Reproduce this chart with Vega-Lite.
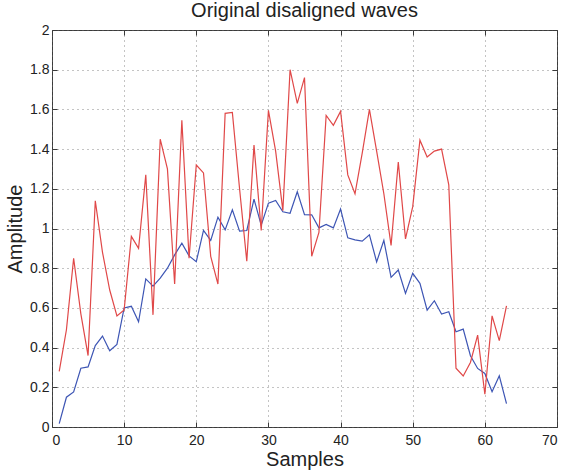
{
  "$schema": "https://vega.github.io/schema/vega-lite/v6.json",
  "autosize": {"type": "none"},
  "padding": {"left": 52, "top": 30, "right": 8, "bottom": 45},
  "width": 505,
  "height": 397,
  "background": "white",
  "config": {
    "font": "Liberation Sans",
    "view": {"stroke": "#3a3a3a", "strokeWidth": 1}
  },
  "title": {
    "text": "Original disaligned waves",
    "font": "Liberation Sans",
    "fontSize": 20,
    "fontWeight": "normal",
    "color": "#222222",
    "anchor": "middle",
    "offset": 2
  },
  "data": {
    "values": [
      {"sample": 1, "amplitude": 0.017, "wave": "aligned"},
      {"sample": 2, "amplitude": 0.15, "wave": "aligned"},
      {"sample": 3, "amplitude": 0.177, "wave": "aligned"},
      {"sample": 4, "amplitude": 0.296, "wave": "aligned"},
      {"sample": 5, "amplitude": 0.303, "wave": "aligned"},
      {"sample": 6, "amplitude": 0.41, "wave": "aligned"},
      {"sample": 7, "amplitude": 0.458, "wave": "aligned"},
      {"sample": 8, "amplitude": 0.384, "wave": "aligned"},
      {"sample": 9, "amplitude": 0.416, "wave": "aligned"},
      {"sample": 10, "amplitude": 0.6, "wave": "aligned"},
      {"sample": 11, "amplitude": 0.608, "wave": "aligned"},
      {"sample": 12, "amplitude": 0.53, "wave": "aligned"},
      {"sample": 13, "amplitude": 0.746, "wave": "aligned"},
      {"sample": 14, "amplitude": 0.71, "wave": "aligned"},
      {"sample": 15, "amplitude": 0.75, "wave": "aligned"},
      {"sample": 16, "amplitude": 0.8, "wave": "aligned"},
      {"sample": 17, "amplitude": 0.867, "wave": "aligned"},
      {"sample": 18, "amplitude": 0.926, "wave": "aligned"},
      {"sample": 19, "amplitude": 0.862, "wave": "aligned"},
      {"sample": 20, "amplitude": 0.833, "wave": "aligned"},
      {"sample": 21, "amplitude": 0.99, "wave": "aligned"},
      {"sample": 22, "amplitude": 0.94, "wave": "aligned"},
      {"sample": 23, "amplitude": 1.057, "wave": "aligned"},
      {"sample": 24, "amplitude": 0.993, "wave": "aligned"},
      {"sample": 25, "amplitude": 1.094, "wave": "aligned"},
      {"sample": 26, "amplitude": 0.987, "wave": "aligned"},
      {"sample": 27, "amplitude": 0.99, "wave": "aligned"},
      {"sample": 28, "amplitude": 1.148, "wave": "aligned"},
      {"sample": 29, "amplitude": 1.017, "wave": "aligned"},
      {"sample": 30, "amplitude": 1.128, "wave": "aligned"},
      {"sample": 31, "amplitude": 1.141, "wave": "aligned"},
      {"sample": 32, "amplitude": 1.084, "wave": "aligned"},
      {"sample": 33, "amplitude": 1.077, "wave": "aligned"},
      {"sample": 34, "amplitude": 1.185, "wave": "aligned"},
      {"sample": 35, "amplitude": 1.07, "wave": "aligned"},
      {"sample": 36, "amplitude": 1.069, "wave": "aligned"},
      {"sample": 37, "amplitude": 1.003, "wave": "aligned"},
      {"sample": 38, "amplitude": 1.02, "wave": "aligned"},
      {"sample": 39, "amplitude": 1.003, "wave": "aligned"},
      {"sample": 40, "amplitude": 1.098, "wave": "aligned"},
      {"sample": 41, "amplitude": 0.953, "wave": "aligned"},
      {"sample": 42, "amplitude": 0.943, "wave": "aligned"},
      {"sample": 43, "amplitude": 0.936, "wave": "aligned"},
      {"sample": 44, "amplitude": 0.968, "wave": "aligned"},
      {"sample": 45, "amplitude": 0.832, "wave": "aligned"},
      {"sample": 46, "amplitude": 0.94, "wave": "aligned"},
      {"sample": 47, "amplitude": 0.754, "wave": "aligned"},
      {"sample": 48, "amplitude": 0.791, "wave": "aligned"},
      {"sample": 49, "amplitude": 0.673, "wave": "aligned"},
      {"sample": 50, "amplitude": 0.774, "wave": "aligned"},
      {"sample": 51, "amplitude": 0.724, "wave": "aligned"},
      {"sample": 52, "amplitude": 0.589, "wave": "aligned"},
      {"sample": 53, "amplitude": 0.636, "wave": "aligned"},
      {"sample": 54, "amplitude": 0.569, "wave": "aligned"},
      {"sample": 55, "amplitude": 0.581, "wave": "aligned"},
      {"sample": 56, "amplitude": 0.48, "wave": "aligned"},
      {"sample": 57, "amplitude": 0.493, "wave": "aligned"},
      {"sample": 58, "amplitude": 0.359, "wave": "aligned"},
      {"sample": 59, "amplitude": 0.295, "wave": "aligned"},
      {"sample": 60, "amplitude": 0.27, "wave": "aligned"},
      {"sample": 61, "amplitude": 0.178, "wave": "aligned"},
      {"sample": 62, "amplitude": 0.258, "wave": "aligned"},
      {"sample": 63, "amplitude": 0.118, "wave": "aligned"},
      {"sample": 1, "amplitude": 0.28, "wave": "disaligned"},
      {"sample": 2, "amplitude": 0.49, "wave": "disaligned"},
      {"sample": 3, "amplitude": 0.85, "wave": "disaligned"},
      {"sample": 4, "amplitude": 0.57, "wave": "disaligned"},
      {"sample": 5, "amplitude": 0.36, "wave": "disaligned"},
      {"sample": 6, "amplitude": 1.14, "wave": "disaligned"},
      {"sample": 7, "amplitude": 0.88, "wave": "disaligned"},
      {"sample": 8, "amplitude": 0.69, "wave": "disaligned"},
      {"sample": 9, "amplitude": 0.56, "wave": "disaligned"},
      {"sample": 10, "amplitude": 0.59, "wave": "disaligned"},
      {"sample": 11, "amplitude": 0.96, "wave": "disaligned"},
      {"sample": 12, "amplitude": 0.9, "wave": "disaligned"},
      {"sample": 13, "amplitude": 1.27, "wave": "disaligned"},
      {"sample": 14, "amplitude": 0.565, "wave": "disaligned"},
      {"sample": 15, "amplitude": 1.45, "wave": "disaligned"},
      {"sample": 16, "amplitude": 1.3, "wave": "disaligned"},
      {"sample": 17, "amplitude": 0.72, "wave": "disaligned"},
      {"sample": 18, "amplitude": 1.545, "wave": "disaligned"},
      {"sample": 19, "amplitude": 0.85, "wave": "disaligned"},
      {"sample": 20, "amplitude": 1.32, "wave": "disaligned"},
      {"sample": 21, "amplitude": 1.28, "wave": "disaligned"},
      {"sample": 22, "amplitude": 0.86, "wave": "disaligned"},
      {"sample": 23, "amplitude": 0.72, "wave": "disaligned"},
      {"sample": 24, "amplitude": 1.58, "wave": "disaligned"},
      {"sample": 25, "amplitude": 1.585, "wave": "disaligned"},
      {"sample": 26, "amplitude": 1.2, "wave": "disaligned"},
      {"sample": 27, "amplitude": 0.835, "wave": "disaligned"},
      {"sample": 28, "amplitude": 1.42, "wave": "disaligned"},
      {"sample": 29, "amplitude": 0.99, "wave": "disaligned"},
      {"sample": 30, "amplitude": 1.595, "wave": "disaligned"},
      {"sample": 31, "amplitude": 1.39, "wave": "disaligned"},
      {"sample": 32, "amplitude": 1.09, "wave": "disaligned"},
      {"sample": 33, "amplitude": 1.8, "wave": "disaligned"},
      {"sample": 34, "amplitude": 1.63, "wave": "disaligned"},
      {"sample": 35, "amplitude": 1.76, "wave": "disaligned"},
      {"sample": 36, "amplitude": 0.86, "wave": "disaligned"},
      {"sample": 37, "amplitude": 0.98, "wave": "disaligned"},
      {"sample": 38, "amplitude": 1.57, "wave": "disaligned"},
      {"sample": 39, "amplitude": 1.52, "wave": "disaligned"},
      {"sample": 40, "amplitude": 1.59, "wave": "disaligned"},
      {"sample": 41, "amplitude": 1.27, "wave": "disaligned"},
      {"sample": 42, "amplitude": 1.175, "wave": "disaligned"},
      {"sample": 43, "amplitude": 1.38, "wave": "disaligned"},
      {"sample": 44, "amplitude": 1.6, "wave": "disaligned"},
      {"sample": 45, "amplitude": 1.39, "wave": "disaligned"},
      {"sample": 46, "amplitude": 1.175, "wave": "disaligned"},
      {"sample": 47, "amplitude": 0.915, "wave": "disaligned"},
      {"sample": 48, "amplitude": 1.335, "wave": "disaligned"},
      {"sample": 49, "amplitude": 0.948, "wave": "disaligned"},
      {"sample": 50, "amplitude": 1.11, "wave": "disaligned"},
      {"sample": 51, "amplitude": 1.445, "wave": "disaligned"},
      {"sample": 52, "amplitude": 1.36, "wave": "disaligned"},
      {"sample": 53, "amplitude": 1.39, "wave": "disaligned"},
      {"sample": 54, "amplitude": 1.4, "wave": "disaligned"},
      {"sample": 55, "amplitude": 1.22, "wave": "disaligned"},
      {"sample": 56, "amplitude": 0.296, "wave": "disaligned"},
      {"sample": 57, "amplitude": 0.257, "wave": "disaligned"},
      {"sample": 58, "amplitude": 0.325, "wave": "disaligned"},
      {"sample": 59, "amplitude": 0.463, "wave": "disaligned"},
      {"sample": 60, "amplitude": 0.165, "wave": "disaligned"},
      {"sample": 61, "amplitude": 0.56, "wave": "disaligned"},
      {"sample": 62, "amplitude": 0.435, "wave": "disaligned"},
      {"sample": 63, "amplitude": 0.61, "wave": "disaligned"}
    ]
  },
  "layer": [
    {
      "mark": {"type": "line", "opacity": 0},
      "encoding": {
        "x": {
          "field": "sample",
          "type": "quantitative",
          "scale": {"domain": [0, 70], "nice": false, "zero": false},
          "axis": {
            "orient": "top",
            "values": [0, 10, 20, 30, 40, 50, 60, 70],
            "labels": false,
            "title": null,
            "grid": false,
            "domain": false,
            "tickSize": -5,
            "tickColor": "#3a3a3a"
          }
        },
        "y": {
          "field": "amplitude",
          "type": "quantitative",
          "scale": {"domain": [0, 2], "nice": false, "zero": false},
          "axis": {
            "orient": "right",
            "values": [0, 0.2, 0.4, 0.6, 0.8, 1, 1.2, 1.4, 1.6, 1.8, 2],
            "labels": false,
            "title": null,
            "grid": false,
            "domain": false,
            "tickSize": -5,
            "tickColor": "#3a3a3a"
          }
        },
        "detail": {"field": "wave"}
      }
    },
    {
      "mark": {"type": "line", "strokeWidth": 1.2},
      "encoding": {
        "x": {
          "field": "sample",
          "type": "quantitative",
          "axis": {
            "orient": "bottom",
            "values": [0, 10, 20, 30, 40, 50, 60, 70],
            "title": "Samples",
            "titleFont": "Liberation Sans",
            "titleFontSize": 20,
            "titleFontWeight": "normal",
            "titleColor": "#222222",
            "titlePadding": 2,
            "labelFont": "Liberation Sans",
            "labelFontSize": 14,
            "labelColor": "#222222",
            "labelPadding": 11,
            "grid": true,
            "gridColor": "#6a6a6a",
            "gridDash": [1, 4],
            "gridWidth": 0.8,
            "domain": false,
            "tickSize": -5,
            "tickColor": "#3a3a3a"
          }
        },
        "y": {
          "field": "amplitude",
          "type": "quantitative",
          "axis": {
            "orient": "left",
            "values": [0, 0.2, 0.4, 0.6, 0.8, 1, 1.2, 1.4, 1.6, 1.8, 2],
            "format": "~g",
            "title": "Amplitude",
            "titleFont": "Liberation Sans",
            "titleFontSize": 20,
            "titleFontWeight": "normal",
            "titleColor": "#222222",
            "titlePadding": 4,
            "labelFont": "Liberation Sans",
            "labelFontSize": 14,
            "labelColor": "#222222",
            "labelPadding": 8,
            "grid": true,
            "gridColor": "#6a6a6a",
            "gridDash": [1, 4],
            "gridWidth": 0.8,
            "domain": false,
            "tickSize": -5,
            "tickColor": "#3a3a3a"
          }
        },
        "color": {
          "field": "wave",
          "type": "nominal",
          "scale": {"domain": ["aligned", "disaligned"], "range": ["#3d55b4", "#e04848"]},
          "legend": null
        }
      }
    }
  ],
  "resolve": {"axis": {"x": "independent", "y": "independent"}}
}
